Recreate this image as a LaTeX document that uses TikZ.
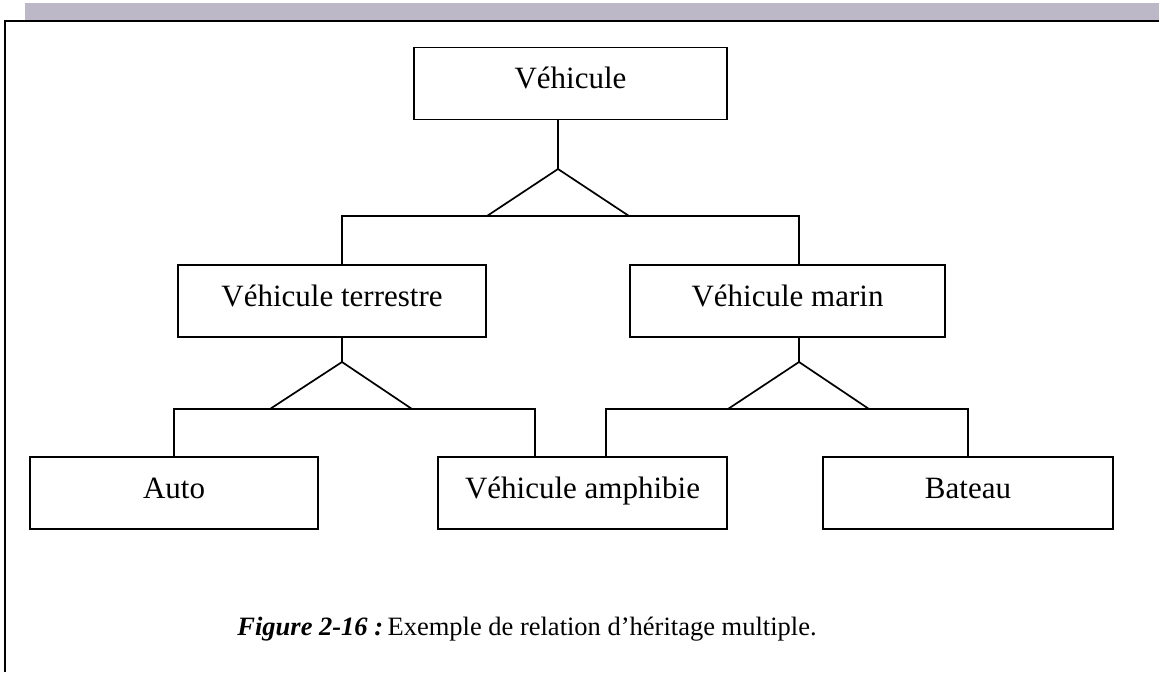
\documentclass[tikz,border=0pt]{standalone}
\usepackage{fontspec}
\setmainfont{Liberation Serif}
\definecolor{stripgrey}{RGB}{188,184,200}
\tikzset{
  box/.style={draw=black, line width=1.7pt, inner sep=0pt, minimum height=72pt,
              text height=24pt, text depth=14pt,
              font=\fontsize{31}{36}\selectfont},
  link/.style={draw=black, line width=1.7pt, line join=miter},
}
\begin{document}
\begin{tikzpicture}[x=1pt,y=-1pt]
\useasboundingbox (0,0) rectangle (1159,672);
% page frame and grey band
\fill[stripgrey] (25,3) rectangle (1159,20);
\draw[line width=2.4pt] (5,672) -- (5,21) -- (1159,21);

% classes
\node[box, minimum width=313pt] (veh) at (570.5,83.5) {Véhicule};
\node[box, minimum width=308pt] (terr) at (332,301) {Véhicule terrestre};
\node[box, minimum width=315pt] (mar) at (787.5,301) {Véhicule marin};
\node[box, minimum width=288pt] (auto) at (174,493) {Auto};
\node[box, minimum width=289pt] (amph) at (582.5,493) {Véhicule amphibie};
\node[box, minimum width=290pt] (bat) at (968,493) {Bateau};

% inheritance from Véhicule
\coordinate (a1) at (558,169);
\coordinate (b1l) at (487,216);
\coordinate (b1r) at (629,216);
\draw[link] (veh.south -| a1) -- (a1);
\draw[link] (a1) -- (b1l) -- (b1r) -- cycle;
\draw[link] (terr.north -| 342,0) |- (b1l);
\draw[link] (b1r) -| (mar.north -| 799,0);

% inheritance from Véhicule terrestre
\coordinate (a2) at (342,362);
\coordinate (b2l) at (270,409);
\coordinate (b2r) at (412,409);
\draw[link] (terr.south -| a2) -- (a2);
\draw[link] (a2) -- (b2l) -- (b2r) -- cycle;
\draw[link] (auto.north) |- (b2l);
\draw[link] (b2r) -| (amph.north -| 535,0);

% inheritance from Véhicule marin
\coordinate (a3) at (799,362);
\coordinate (b3l) at (728,409);
\coordinate (b3r) at (869,409);
\draw[link] (mar.south -| a3) -- (a3);
\draw[link] (a3) -- (b3l) -- (b3r) -- cycle;
\draw[link] (amph.north -| 606,0) |- (b3l);
\draw[link] (b3r) -| (bat.north);

% caption
\node[font=\fontsize{26.5}{32}\selectfont] (cap) at (527,629) {\textbf{\textit{Figure 2-16 :}}\,Exemple de relation d’héritage multiple.};
\end{tikzpicture}
\end{document}
